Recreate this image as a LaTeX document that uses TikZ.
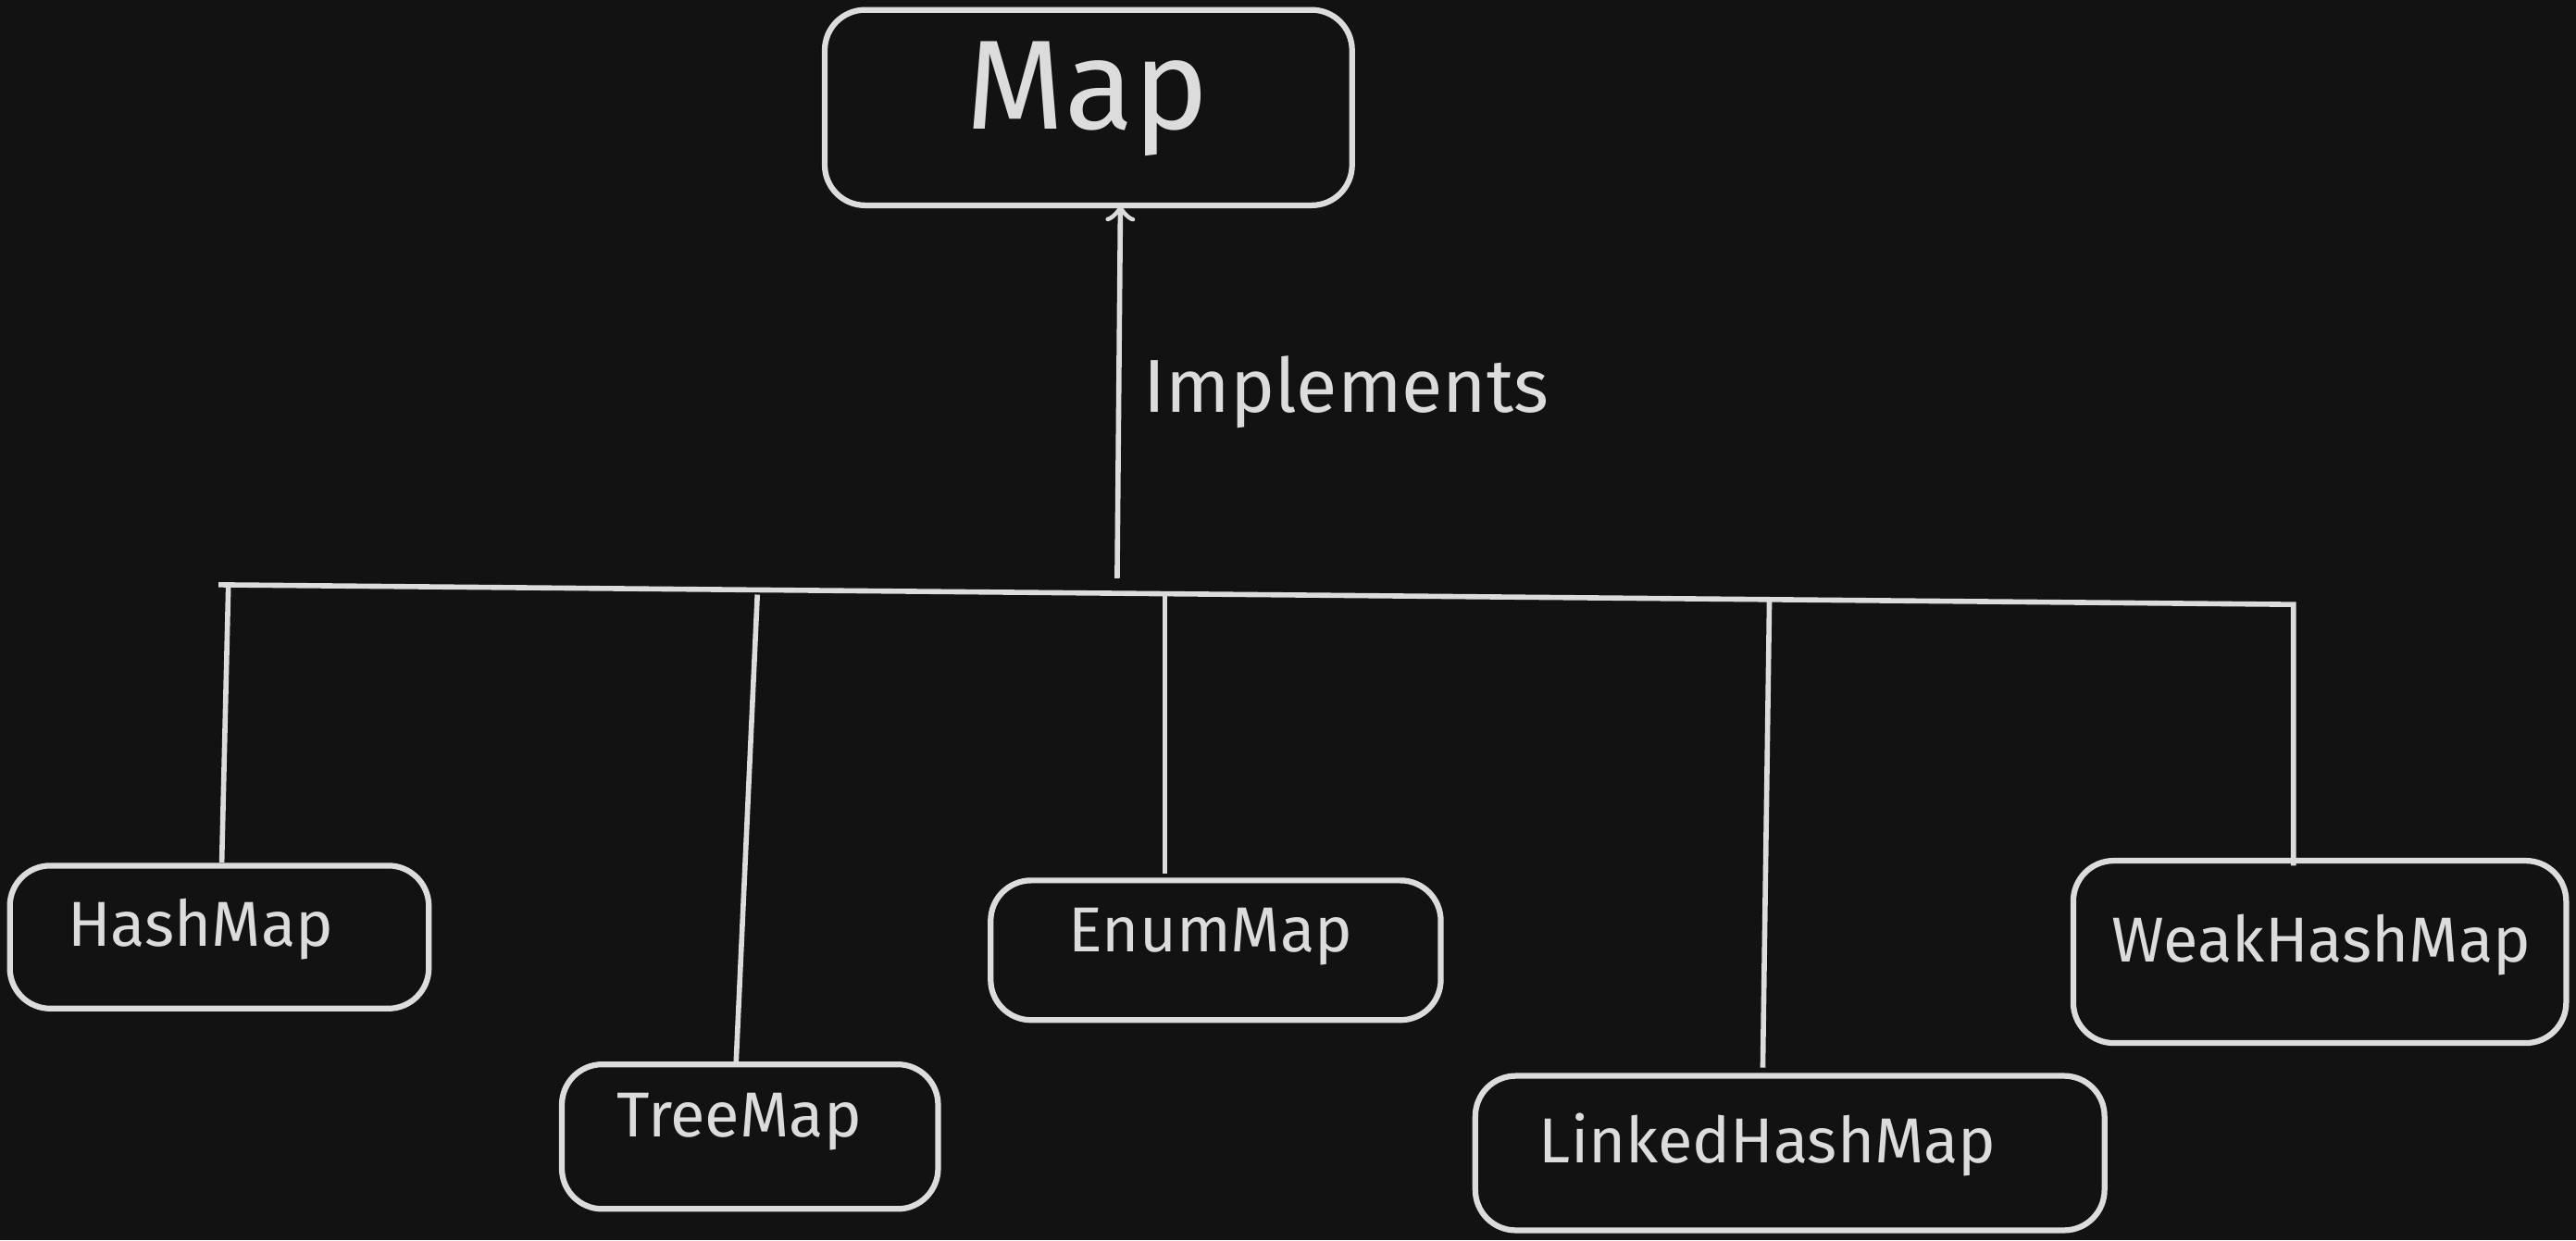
\documentclass[tikz,border=0pt]{standalone}
\usepackage{fontspec}
\setmainfont{Fira Sans}
\usetikzlibrary{positioning,calc}
\definecolor{bg}{HTML}{121212}
\definecolor{ink}{HTML}{DCDCDC}
\tikzset{
    mapbox/.style={draw=ink, line width=1pt, rounded corners=7pt},
    maptext/.style={text=ink, font=\fontsize{11}{13}\selectfont},
    link/.style={draw=ink, line width=0.9pt}
}
\begin{document}
\begin{tikzpicture}
    % background
    \fill[bg] (0,0) rectangle (15.68,-7.55);
    \useasboundingbox (0,0) rectangle (15.68,-7.55);

    % boxes
    \draw[mapbox] (5.02,-0.06) rectangle (8.23,-1.25);
    \draw[mapbox] (0.06,-5.27) rectangle (2.61,-6.14);
    \draw[mapbox] (3.42,-6.48) rectangle (5.71,-7.36);
    \draw[mapbox] (6.03,-5.36) rectangle (8.77,-6.21);
    \draw[mapbox] (8.98,-6.55) rectangle (12.81,-7.49);
    \draw[mapbox] (12.62,-5.24) rectangle (15.62,-6.35);

    % labels
    \node[text=ink, font=\fontsize{22}{25}\selectfont] (map) at (6.62,-0.6) {Map};
    \node[maptext] (hash) at (1.22,-5.66) {HashMap};
    \node[maptext] (tree) at (4.50,-6.83) {TreeMap};
    \node[maptext] (enum) at (7.37,-5.70) {EnumMap};
    \node[maptext] (linked) at (10.76,-6.97) {LinkedHashMap};
    \node[maptext] (weak) at (14.13,-5.75) {WeakHashMap};

    % bus line
    \coordinate (busL) at (1.33,-3.56);
    \coordinate (busR) at (13.96,-3.68);
    \draw[link] (busL) -- (busR) -- (13.96,-5.27);

    % implements arrow
    \draw[link, ->] (6.80,-3.52) -- node[right=0.02cm, text=ink, font=\fontsize{13}{15}\selectfont] {Implements} (6.82,-1.25);

    % branches
    \draw[link] (1.39,-3.57) -- (1.35,-5.25);
    \draw[link] (4.61,-3.62) -- (4.48,-6.48);
    \draw[link] (7.09,-3.62) -- (7.09,-5.32);
    \draw[link] (10.77,-3.66) -- (10.73,-6.50);
\end{tikzpicture}
\end{document}
